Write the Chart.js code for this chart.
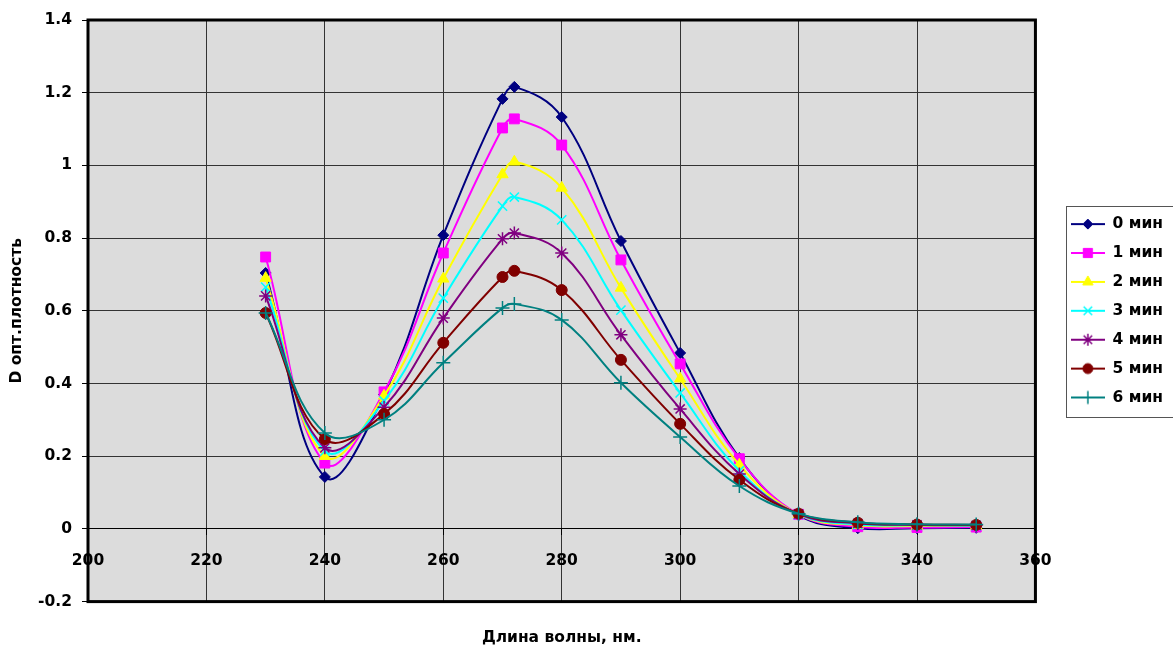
<!DOCTYPE html>
<html>
<head>
<meta charset="utf-8">
<script src="https://cdn.jsdelivr.net/npm/chart.js"></script>
<style>
  html, body { margin: 0; padding: 0; background: #fff; }
  #wrap { width: 1173px; height: 647px; }
</style>
</head>
<body>
<div id="wrap"><canvas id="myChart" width="1173" height="647"></canvas></div>
<script>
// wavelengths, nm
const wavelengths = [230, 240, 250, 260, 270, 272, 280, 290, 300, 310, 320, 330, 340, 350];

// optical density after N minutes
const min0 = [0.704, 0.143, 0.370, 0.808, 1.183, 1.216, 1.133, 0.792, 0.484, 0.195, 0.038, 0.002, 0.002, 0.003];
const min1 = [0.748, 0.181, 0.377, 0.759, 1.103, 1.128, 1.056, 0.740, 0.454, 0.193, 0.040, 0.006, 0.004, 0.005];
const min2 = [0.690, 0.200, 0.366, 0.688, 0.975, 1.010, 0.938, 0.663, 0.413, 0.176, 0.040, 0.010, 0.008, 0.008];
const min3 = [0.665, 0.214, 0.352, 0.635, 0.888, 0.913, 0.850, 0.602, 0.374, 0.160, 0.040, 0.012, 0.010, 0.009];
const min4 = [0.641, 0.223, 0.335, 0.580, 0.798, 0.814, 0.759, 0.534, 0.330, 0.151, 0.041, 0.015, 0.011, 0.010];
const min5 = [0.594, 0.247, 0.316, 0.512, 0.693, 0.710, 0.657, 0.465, 0.289, 0.135, 0.042, 0.017, 0.012, 0.011];
const min6 = [0.594, 0.264, 0.300, 0.457, 0.608, 0.619, 0.575, 0.402, 0.253, 0.118, 0.042, 0.018, 0.013, 0.012];

const seriesNames = ['0 мин', '1 мин', '2 мин', '3 мин', '4 мин', '5 мин', '6 мин'];
const seriesValues = [min0, min1, min2, min3, min4, min5, min6];

const xTitle = 'Длина волны, нм.';
const yTitle = 'D опт.плотность';

const FONT = '"DejaVu Sans", Arial, sans-serif';
const FONT_SIZE = 15.5;

// colour, marker, marker radius, marker stroke width
const styles = [
  { color: '#000080', point: 'rectRot',  r: 5.5, bw: 1 },
  { color: '#FF00FF', point: 'rect',     r: 7,   bw: 1 },
  { color: '#FFFF00', point: 'triangle', r: 6.5, bw: 1 },
  { color: '#00FFFF', point: 'crossRot', r: 6.5, bw: 1.5 },
  { color: '#800080', point: 'star',     r: 6.5, bw: 1.5 },
  { color: '#800000', point: 'circle',   r: 5.5, bw: 1 },
  { color: '#008080', point: 'cross',    r: 7,   bw: 1.5 },
];

// small line + marker picture for each legend entry
const makeIcon = (s) => {
  const c = document.createElement('canvas');
  c.width = 34;
  c.height = 16;
  const g = c.getContext('2d');
  g.strokeStyle = s.color;
  g.lineWidth = 2;
  g.beginPath();
  g.moveTo(0, 8);
  g.lineTo(34, 8);
  g.stroke();
  g.fillStyle = s.color;
  g.lineWidth = s.bw;
  Chart.helpers.drawPoint(g, { pointStyle: s.point, radius: s.r - 0.5, rotation: 0, borderWidth: s.bw }, 17, 8);
  return c;
};
const legendIcons = styles.map(makeIcon);

const datasets = seriesValues.map((vals, i) => ({
  label: seriesNames[i],
  data: wavelengths.map((w, j) => ({ x: w, y: vals[j] })),
  xAxisID: 'x',
  yAxisID: 'y',
  showLine: true,
  tension: 0.4,
  borderColor: styles[i].color,
  borderWidth: 2,
  backgroundColor: styles[i].color,
  pointStyle: styles[i].point,
  pointRadius: styles[i].r,
  pointBorderWidth: styles[i].bw,
  pointBackgroundColor: styles[i].color,
  pointBorderColor: styles[i].color,
  order: seriesValues.length - i,
}));

// grey plot area, heavy frame round it, thin frame round the legend
const plotFrame = {
  id: 'plotFrame',
  beforeDraw(chart) {
    const { ctx, chartArea: a } = chart;
    ctx.save();
    ctx.fillStyle = '#DCDCDC';
    ctx.fillRect(a.left, a.top, a.right - a.left, a.bottom - a.top);
    ctx.restore();
  },
  afterDraw(chart) {
    const { ctx, chartArea: a, legend } = chart;
    ctx.save();
    ctx.strokeStyle = '#000';
    ctx.lineWidth = 3;
    ctx.strokeRect(a.left, a.top, a.right - a.left, a.bottom - a.top);
    const boxes = legend.legendHitBoxes;
    if (boxes && boxes.length) {
      const first = boxes[0];
      const last = boxes[boxes.length - 1];
      const left = Math.min(...boxes.map(b => b.left)) - 5;
      const top = first.top - 10;
      const bottom = last.top + last.height + 12;
      ctx.strokeStyle = '#555';
      ctx.lineWidth = 1;
      ctx.strokeRect(Math.round(left) + 0.5, Math.round(top) + 0.5, chart.width + 5 - left, Math.round(bottom - top));
    }
    ctx.restore();
  }
};

const ctx = document.getElementById('myChart');
const myChart = new Chart(ctx, {
  type: 'scatter',
  data: { datasets },
  plugins: [plotFrame],
  options: {
    responsive: false,
    animation: false,
    layout: { padding: { top: 20, left: 0, right: 0, bottom: 0 } },
    plugins: {
      tooltip: { enabled: false },
      legend: {
        position: 'right',
        fullSize: false,
        labels: {
          usePointStyle: true,
          pointStyleWidth: 34,
          padding: 13.4,
          color: '#000',
          font: { family: FONT, size: FONT_SIZE, weight: 'bold' },
          generateLabels: () => seriesNames.map((name, i) => ({
            text: name,
            pointStyle: legendIcons[i],
            datasetIndex: i,
            fontColor: '#000',
            fillStyle: 'transparent',
            strokeStyle: 'transparent',
            lineWidth: 0,
            hidden: false,
          })),
        },
      },
    },
    scales: {
      x: {
        type: 'linear',
        position: { y: 0 },
        min: 200,
        max: 360,
        ticks: {
          stepSize: 20,
          maxRotation: 0,
          padding: 17,
          color: '#000',
          font: { family: FONT, size: FONT_SIZE, weight: 'bold' },
        },
        grid: { color: '#333', lineWidth: 1, tickLength: 6, tickColor: '#000' },
        border: { display: true, color: '#000', width: 1 },
      },
      xTitle: {
        type: 'linear',
        axis: 'x',
        position: 'bottom',
        grid: { display: false },
        ticks: { display: false },
        border: { display: false },
        title: {
          display: true,
          text: xTitle,
          color: '#000',
          font: { family: FONT, size: FONT_SIZE, weight: 'bold' },
          padding: { top: 18.8, bottom: 0 },
        },
      },
      y: {
        type: 'linear',
        position: 'left',
        min: -0.2,
        max: 1.4,
        afterFit: (scale) => { scale.width = 88; },
        ticks: {
          stepSize: 0.2,
          padding: 10,
          color: '#000',
          font: { family: FONT, size: FONT_SIZE, weight: 'bold' },
          callback: (v) => String(Number(v.toFixed(1))),
        },
        grid: { color: '#333', lineWidth: 1, tickLength: 6, tickColor: '#000' },
        border: { display: false },
        title: {
          display: true,
          text: yTitle,
          color: '#000',
          font: { family: FONT, size: FONT_SIZE, weight: 'bold' },
          padding: { top: 8, bottom: 4 },
        },
      },
      gap: {
        type: 'linear',
        axis: 'y',
        position: 'right',
        afterFit: (scale) => { scale.width = 22; },
        grid: { display: false },
        ticks: { display: false },
        border: { display: false },
      },
    },
  },
});
</script>
</body>
</html>
